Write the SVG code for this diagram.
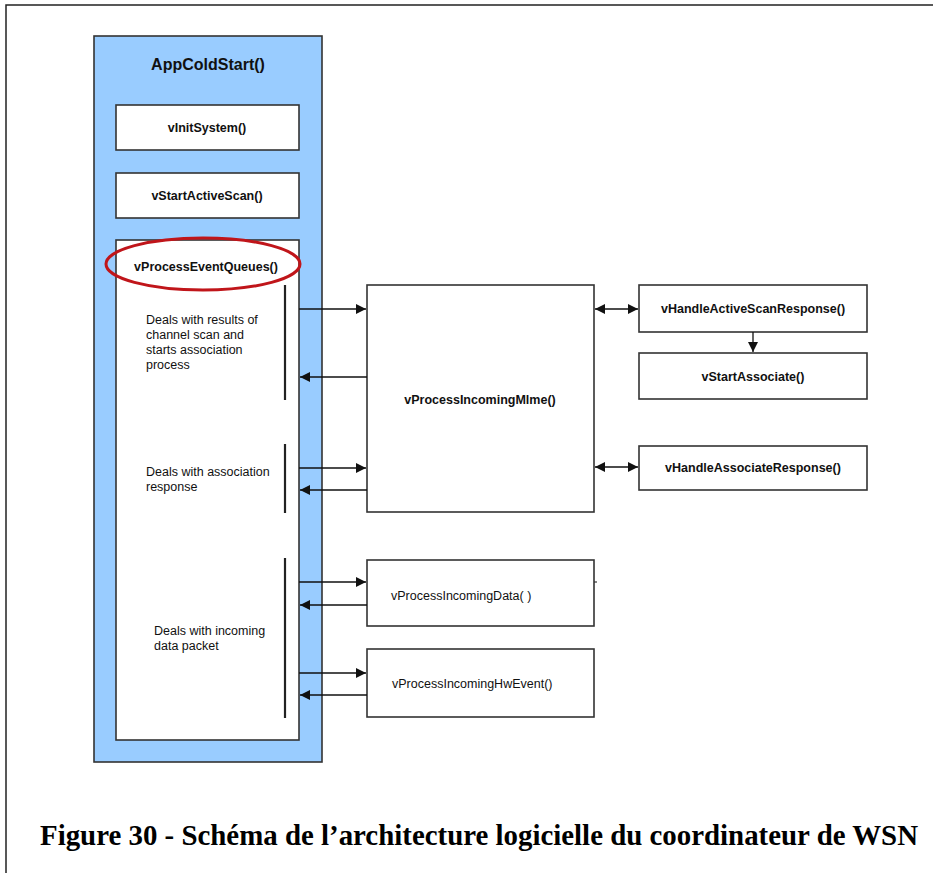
<svg xmlns="http://www.w3.org/2000/svg" width="933" height="873" viewBox="0 0 933 873">
  <defs>
    <marker id="arrow" viewBox="0 0 10 10" refX="10" refY="5" markerWidth="13" markerHeight="10" markerUnits="userSpaceOnUse" orient="auto-start-reverse">
      <path d="M0,0 L10,5 L0,10 z" fill="#111"/>
    </marker>
    <style>
      .frame { stroke: #222; stroke-width: 1.5; fill: none; }
      .box { fill: #fff; stroke: #333; stroke-width: 1.6; }
      .outer { fill: #99ccff; stroke: #333; stroke-width: 1.6; }
      .lbl { font-family: "Liberation Sans", Arial, sans-serif; font-size: 12.5px; fill: #111; }
      .b { font-weight: bold; }
      .mid { text-anchor: middle; }
      .edge { stroke: #111; stroke-width: 1.3; fill: none; }
      .bar { stroke: #222; stroke-width: 2.2; }
      .caption { font-family: "Liberation Serif", "Times New Roman", serif; font-weight: bold; font-size: 27px; fill: #000; }
    </style>
  </defs>

  <rect width="933" height="873" fill="#fff"/>
  <!-- page frame (top and left rules) -->
  <path class="frame" d="M6,873 V5 H933"/>

  <!-- main routine container -->
  <g id="appcoldstart">
    <rect class="outer" x="94" y="36" width="228" height="726"/>
    <text class="lbl b mid" x="208" y="70" style="font-size:16px">AppColdStart()</text>
  </g>

  <g id="vinitsystem">
    <rect class="box" x="116" y="105" width="183" height="45"/>
    <text class="lbl b mid" x="207" y="132">vInitSystem()</text>
  </g>

  <g id="vstartactivescan">
    <rect class="box" x="116" y="173" width="183" height="45"/>
    <text class="lbl b mid" x="207" y="200">vStartActiveScan()</text>
  </g>

  <g id="vprocesseventqueues">
    <rect class="box" x="116" y="240" width="183" height="500"/>
    <ellipse cx="203" cy="264" rx="97" ry="26" fill="none" stroke="#c0151a" stroke-width="3"/>
    <text class="lbl b mid" x="206" y="271">vProcessEventQueues()</text>
    <line class="bar" x1="285" y1="285" x2="285" y2="400"/>
    <line class="bar" x1="285" y1="444" x2="285" y2="513"/>
    <line class="bar" x1="285" y1="558" x2="285" y2="718"/>
    <text class="lbl" x="146" y="324">Deals with results of</text>
    <text class="lbl" x="146" y="339">channel scan and</text>
    <text class="lbl" x="146" y="354">starts association</text>
    <text class="lbl" x="146" y="369">process</text>
    <text class="lbl" x="146" y="476">Deals with association</text>
    <text class="lbl" x="146" y="491">response</text>
    <text class="lbl" x="154" y="635">Deals with incoming</text>
    <text class="lbl" x="154" y="650">data packet</text>
  </g>

  <g id="vprocessincomingmlme">
    <rect class="box" x="367" y="285" width="227" height="227"/>
    <text class="lbl b mid" x="480" y="404">vProcessIncomingMlme()</text>
  </g>

  <g id="vhandleactivescanresponse">
    <rect class="box" x="639" y="285" width="228" height="47"/>
    <text class="lbl b mid" x="753" y="313">vHandleActiveScanResponse()</text>
  </g>

  <g id="vstartassociate">
    <rect class="box" x="639" y="353" width="228" height="46"/>
    <text class="lbl b mid" x="753" y="381">vStartAssociate()</text>
  </g>

  <g id="vhandleassociateresponse">
    <rect class="box" x="639" y="446" width="228" height="44"/>
    <text class="lbl b mid" x="753" y="472">vHandleAssociateResponse()</text>
  </g>

  <g id="vprocessincomingdata">
    <rect class="box" x="367" y="560" width="227" height="66"/>
    <line x1="594" y1="582" x2="597" y2="582" stroke="#333" stroke-width="1.2"/>
    <text class="lbl" x="391" y="600">vProcessIncomingData( )</text>
  </g>

  <g id="vprocessincominghwevent">
    <rect class="box" x="367" y="649" width="227" height="68"/>
    <text class="lbl" x="392" y="688">vProcessIncomingHwEvent()</text>
  </g>

  <!-- calls and returns -->
  <g id="connectors">
    <line class="edge" x1="299" y1="309" x2="366" y2="309" marker-end="url(#arrow)"/>
    <line class="edge" x1="367" y1="377" x2="300" y2="377" marker-end="url(#arrow)"/>
    <line class="edge" x1="299" y1="468" x2="366" y2="468" marker-end="url(#arrow)"/>
    <line class="edge" x1="367" y1="490" x2="300" y2="490" marker-end="url(#arrow)"/>
    <line class="edge" x1="299" y1="582" x2="366" y2="582" marker-end="url(#arrow)"/>
    <line class="edge" x1="367" y1="605" x2="300" y2="605" marker-end="url(#arrow)"/>
    <line class="edge" x1="299" y1="673" x2="366" y2="673" marker-end="url(#arrow)"/>
    <line class="edge" x1="367" y1="695" x2="300" y2="695" marker-end="url(#arrow)"/>
    <line class="edge" x1="595" y1="309" x2="638" y2="309" marker-start="url(#arrow)" marker-end="url(#arrow)"/>
    <line class="edge" x1="595" y1="467" x2="638" y2="467" marker-start="url(#arrow)" marker-end="url(#arrow)"/>
    <line class="edge" x1="753" y1="332" x2="753" y2="352" marker-end="url(#arrow)"/>
  </g>

  <!-- figure caption, set tall and narrow -->
  <text class="caption" transform="translate(40,845) scale(1,1.12)" x="0" y="0" textLength="878" lengthAdjust="spacingAndGlyphs">Figure 30 - Schéma de l’architecture logicielle du coordinateur de WSN</text>
</svg>
